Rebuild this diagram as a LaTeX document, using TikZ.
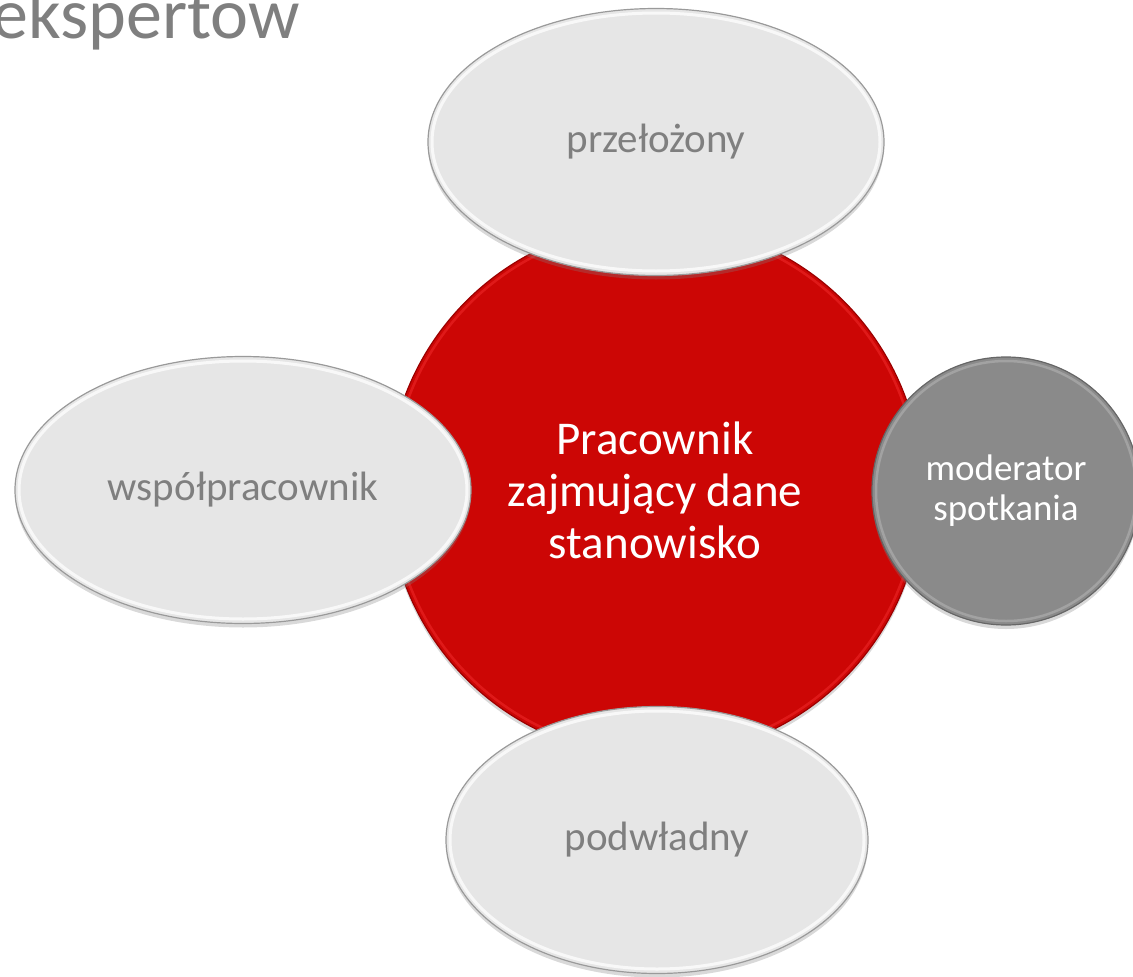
\documentclass[tikz,border=0pt]{standalone}
\usepackage{fontspec}
\setmainfont{Carlito}
\usetikzlibrary{shapes.geometric,shadows}
\definecolor{ellfill}{HTML}{E6E6E6}
\definecolor{ellrim}{HTML}{9A9A9A}
\definecolor{txtgray}{HTML}{7F7F7F}
\definecolor{redfill}{HTML}{CC0605}
\definecolor{redrim}{HTML}{9A0000}
\definecolor{redlight}{HTML}{E82222}
\definecolor{grayfill}{HTML}{8A8A8A}
\definecolor{grayrim}{HTML}{666666}
\definecolor{graylight}{HTML}{A8A8A8}
\begin{document}
\begin{tikzpicture}[x=1pt,y=-1pt,
  oval/.style={ellipse, fill=ellfill, draw=ellrim, line width=1.2pt,
    minimum width=#1, minimum height=267pt, inner sep=0pt, text=txtgray,
    font=\fontsize{41}{49}\selectfont,
    drop shadow={opacity=0.3, shadow xshift=0pt, shadow yshift=-4pt}},
  ovalrim/.style={white, line width=3pt, opacity=0.75},
  hub/.style={circle, fill=redfill, draw=redrim, line width=1.2pt,
    minimum size=534pt, inner sep=0pt, text=white, align=center,
    font=\fontsize{47}{52}\selectfont,
    drop shadow={opacity=0.3, shadow xshift=0pt, shadow yshift=-4pt}},
  hubrim/.style={redlight, line width=2.5pt, opacity=0.7},
  mod/.style={circle, fill=grayfill, draw=grayrim, line width=1.2pt,
    minimum size=268pt, inner sep=0pt, text=white, align=center,
    font=\fontsize{37}{40}\selectfont,
    drop shadow={opacity=0.3, shadow xshift=0pt, shadow yshift=-4pt}},
  modrim/.style={graylight, line width=2.5pt, opacity=0.8},
  titletext/.style={text=txtgray, font=\fontsize{72}{80}\selectfont, inner sep=0pt}
]
\useasboundingbox (0,0) rectangle (1133,977);
\clip (0,0) rectangle (1133,977);

\node[titletext, anchor=base east] (title) at (300,38) {ekspertów};

\node[hub] (hub) at (655,490) {Pracownik\\zajmujący dane\\stanowisko};
\draw[hubrim] (hub.center) circle [radius=263];

\node[oval=456pt] (top) at (656,142) {przełożony};
\draw[ovalrim] (top.center) ellipse [x radius=224, y radius=129];

\node[oval=456pt] (left) at (243,490) {współpracownik};
\draw[ovalrim] (left.center) ellipse [x radius=224, y radius=129];

\node[oval=422pt] (bottom) at (657,840) {podwładny};
\draw[ovalrim] (bottom.center) ellipse [x radius=207, y radius=129];

\node[mod] (mod) at (1006,491) {moderator\\spotkania};
\draw[modrim] (mod.center) circle [radius=130];
\end{tikzpicture}
\end{document}
